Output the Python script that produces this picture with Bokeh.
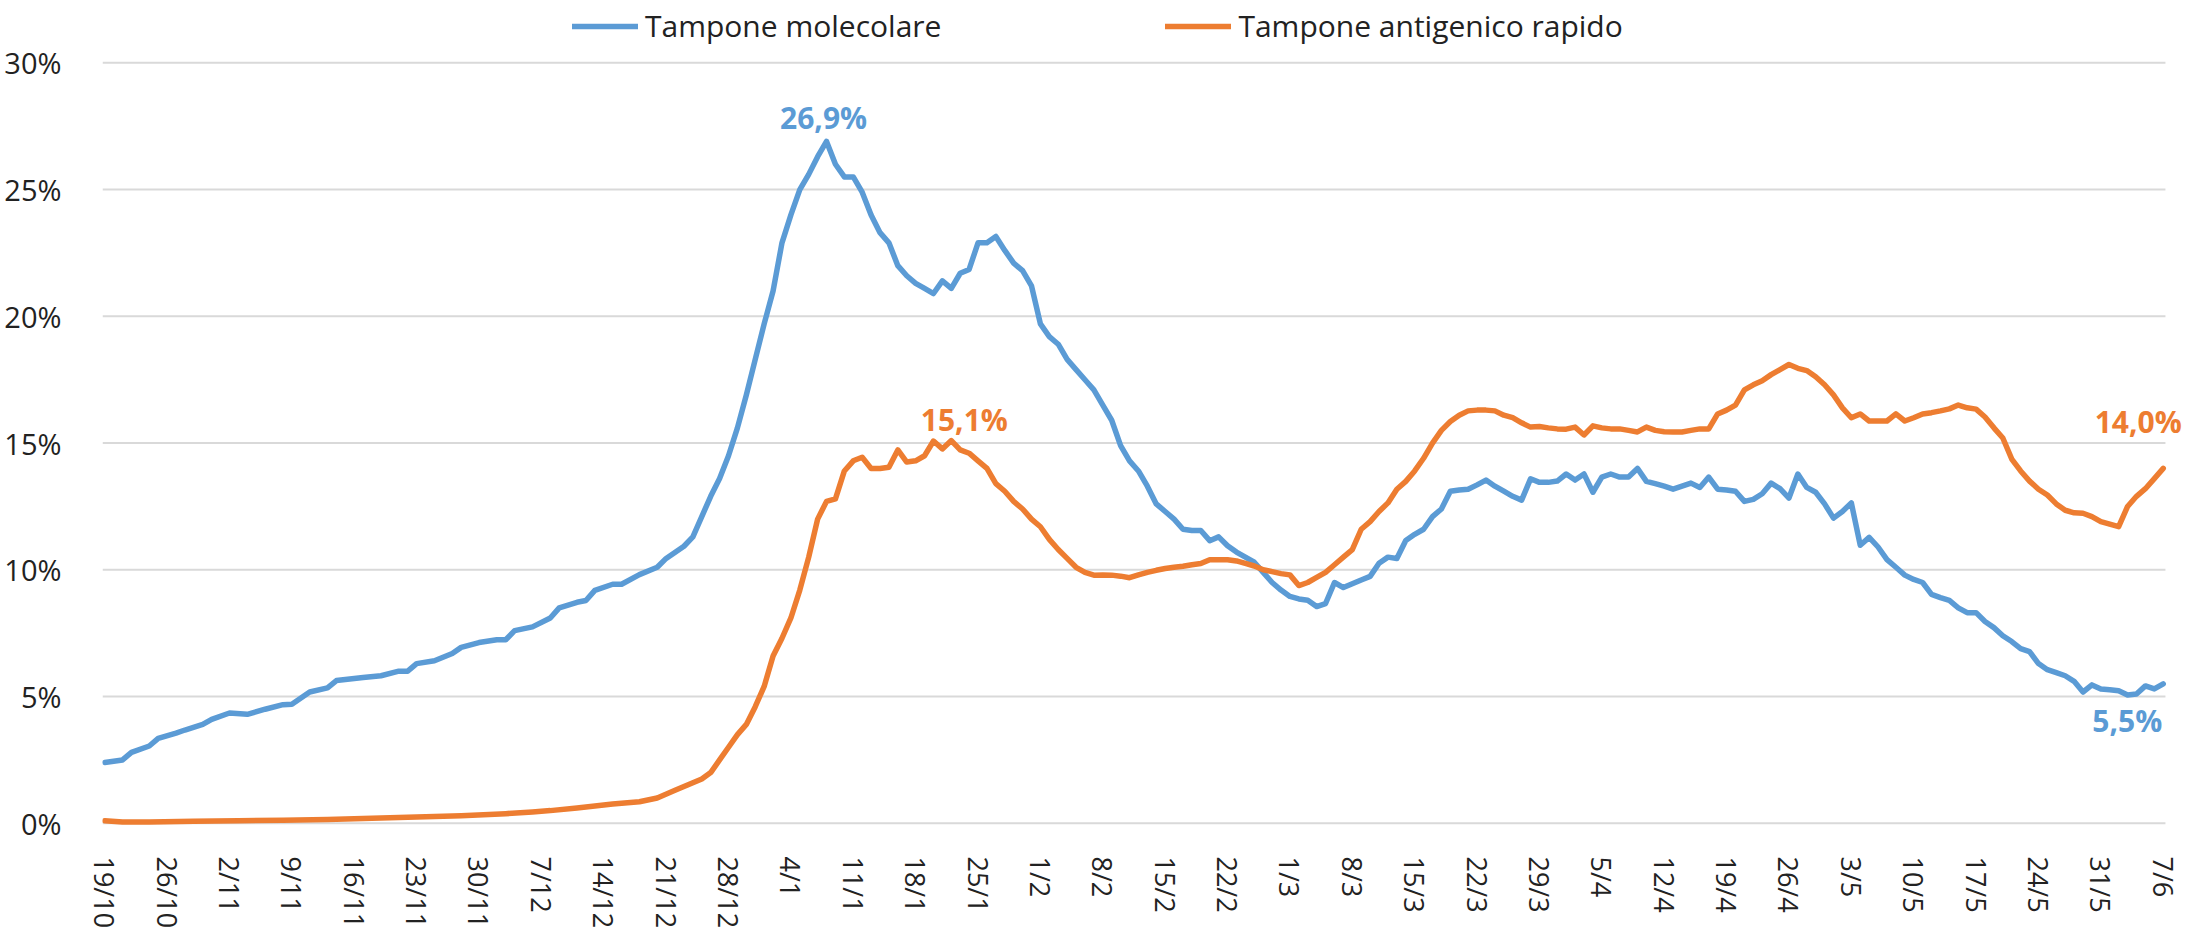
import math
import pandas as pd
from bokeh.plotting import figure
from bokeh.models import (Range1d, FixedTicker, Legend, LegendItem, ColumnDataSource,
                          PrintfTickFormatter, LabelSet)
from bokeh.core.properties import value
from bokeh.embed import file_html
from bokeh.resources import INLINE

# ---------------- data ----------------
start_date = "2020-10-19"
tick_labels = ["19/10", "26/10", "2/11", "9/11", "16/11", "23/11", "30/11", "7/12", "14/12",
               "21/12", "28/12", "4/1", "11/1", "18/1", "25/1", "1/2", "8/2", "15/2", "22/2",
               "1/3", "8/3", "15/3", "22/3", "29/3", "5/4", "12/4", "19/4", "26/4", "3/5",
               "10/5", "17/5", "24/5", "31/5", "7/6"]
y_ticks = [0, 5, 10, 15, 20, 25, 30]
series_names = ["Tampone molecolare", "Tampone antigenico rapido"]

# days after start_date
mol_day = [0, 2, 3, 5, 6, 8, 9, 11, 12, 14, 16, 18, 20, 21, 23, 25, 26, 29, 31, 33, 34, 35, 37,
           39, 40, 42, 44, 45, 46, 48, 50, 51, 53, 54, 55, 57, 58, 60, 62, 63, 65, 66] + list(range(68, 232))
mol_val = [2.4, 2.5, 2.8, 3.05, 3.35, 3.56, 3.68, 3.9, 4.1, 4.35, 4.3, 4.5, 4.68, 4.7, 5.18, 5.34,
           5.63, 5.75, 5.82, 6.0, 6.0, 6.3, 6.41, 6.7, 6.94, 7.13, 7.24, 7.24, 7.6, 7.75, 8.1, 8.5,
           8.72, 8.79, 9.19, 9.43, 9.43, 9.81, 10.1, 10.45, 10.93, 11.3,
           12.9, 13.6, 14.5, 15.6, 16.9, 18.3, 19.7, 21.0, 22.9, 24.0,
           25.0, 25.6, 26.3, 26.9, 26.0, 25.5, 25.5, 24.9, 24.0, 23.3,
           22.9, 22.0, 21.6, 21.3, 21.1, 20.9, 21.4, 21.1, 21.7, 21.85,
           22.9, 22.9, 23.15, 22.6, 22.1, 21.8, 21.2, 19.7, 19.2, 18.9,
           18.3, 17.9, 17.5, 17.1, 16.5, 15.9, 14.9, 14.3, 13.9, 13.3,
           12.6, 12.3, 12.0, 11.6, 11.55, 11.55, 11.15, 11.3, 10.95, 10.7,
           10.5, 10.3, 9.9, 9.5, 9.2, 8.95, 8.85, 8.8, 8.55, 8.67,
           9.5, 9.3, 9.45, 9.6, 9.74, 10.26, 10.5, 10.45, 11.16, 11.4,
           11.6, 12.1, 12.4, 13.1, 13.15, 13.18, 13.35, 13.54, 13.3, 13.1,
           12.9, 12.75, 13.59, 13.45, 13.45, 13.5, 13.78, 13.54, 13.78, 13.06,
           13.66, 13.78, 13.66, 13.66, 14.0, 13.49, 13.4, 13.3, 13.18, 13.3,
           13.42, 13.25, 13.66, 13.18, 13.15, 13.1, 12.7, 12.78, 13.0, 13.42,
           13.2, 12.83, 13.78, 13.25, 13.06, 12.6, 12.04, 12.3, 12.64, 10.97,
           11.28, 10.9, 10.4, 10.1, 9.79, 9.62, 9.5, 9.03, 8.9, 8.79,
           8.5, 8.31, 8.31, 7.96, 7.72, 7.4, 7.17, 6.89, 6.77, 6.3,
           6.06, 5.94, 5.82, 5.6, 5.18, 5.46, 5.3, 5.27, 5.23, 5.06,
           5.1, 5.42, 5.3, 5.5]

ant_day = [0, 2, 5, 10, 15, 20, 25, 30, 35, 40, 45, 48, 50, 53, 57, 60, 62, 64, 65, 67, 68] + list(range(69, 232))
ant_val = [0.1, 0.05, 0.05, 0.08, 0.1, 0.12, 0.15, 0.2, 0.25, 0.3, 0.38, 0.45, 0.5, 0.6, 0.76, 0.85,
           1.0, 1.3, 1.45, 1.75, 2.0,
           2.5, 3.0, 3.5, 3.9, 4.6, 5.4, 6.6, 7.3, 8.1, 9.2,
           10.5, 12.0, 12.7, 12.8, 13.9, 14.3, 14.44, 14.0, 14.0, 14.05,
           14.73, 14.25, 14.3, 14.5, 15.08, 14.77, 15.1, 14.73, 14.6, 14.3,
           14.0, 13.4, 13.1, 12.7, 12.4, 12.0, 11.7, 11.2, 10.8, 10.45,
           10.1, 9.9, 9.79, 9.8, 9.79, 9.75, 9.69, 9.8, 9.9, 9.98,
           10.05, 10.1, 10.14, 10.2, 10.25, 10.4, 10.4, 10.4, 10.35, 10.25,
           10.15, 10.0, 9.93, 9.85, 9.8, 9.38, 9.5, 9.7, 9.9, 10.2,
           10.5, 10.8, 11.6, 11.9, 12.3, 12.64, 13.18, 13.49, 13.9, 14.4,
           15.0, 15.5, 15.85, 16.1, 16.27, 16.3, 16.3, 16.27, 16.1, 16.0,
           15.8, 15.63, 15.65, 15.6, 15.56, 15.55, 15.63, 15.32, 15.68, 15.6,
           15.56, 15.56, 15.5, 15.44, 15.63, 15.5, 15.45, 15.44, 15.44, 15.5,
           15.56, 15.56, 16.15, 16.3, 16.5, 17.1, 17.3, 17.46, 17.7, 17.9,
           18.1, 17.95, 17.86, 17.62, 17.3, 16.9, 16.39, 16.0, 16.15, 15.87,
           15.87, 15.87, 16.15, 15.87, 16.0, 16.15, 16.2, 16.27, 16.35, 16.5,
           16.39, 16.34, 16.03, 15.6, 15.2, 14.37, 13.9, 13.5, 13.18, 12.95,
           12.6, 12.35, 12.25, 12.23, 12.1, 11.9, 11.8, 11.7, 12.5, 12.9,
           13.2, 13.6, 14.0]

# the winter peak is the one that is labelled
winter_end_day = 130

# ---------------- styling ----------------
BLUE = "#5B9BD5"
ORANGE = "#ED7D31"
FONT = "Open Sans"
TXT = "#222222"
GRID = "#D9D9D9"

start = pd.Timestamp(start_date)
tick_days = []
for lab in tick_labels:
    d, m = (int(s) for s in lab.split("/"))
    yr = 2020 if m >= 10 else 2021
    tick_days.append((pd.Timestamp(year=yr, month=m, day=d) - start).days)

PAD_DAYS = 0.25
x_first = min(mol_day[0], ant_day[0]) - PAD_DAYS
x_last = max(mol_day[-1], ant_day[-1]) + PAD_DAYS
# frame extends a little right of the gridlines so end labels are not clipped
p = figure(width=2185, height=936, output_backend="svg", toolbar_location=None,
           x_range=Range1d(x_first, x_first + 233.75), y_range=Range1d(-0.6, 32.46),
           min_border_left=102, min_border_right=0, min_border_top=0, min_border_bottom=98)
p.outline_line_color = None
p.background_fill_color = "white"
p.border_fill_color = "white"

# axes
p.xaxis.ticker = FixedTicker(ticks=tick_days)
p.xaxis.major_label_overrides = {d: lab for d, lab in zip(tick_days, tick_labels)}
p.xaxis.major_label_orientation = -math.pi / 2
p.xaxis.axis_line_color = None
p.xaxis.major_tick_line_color = None
p.xaxis.minor_tick_line_color = None
p.xaxis.major_label_standoff = 12
p.xaxis.major_label_text_font = FONT
p.xaxis.major_label_text_font_size = "27px"
p.xaxis.major_label_text_color = TXT

p.yaxis.ticker = FixedTicker(ticks=y_ticks)
p.yaxis.formatter = PrintfTickFormatter(format="%d%%")
p.yaxis.axis_line_color = None
p.yaxis.major_tick_line_color = None
p.yaxis.minor_tick_line_color = None
p.yaxis.major_label_standoff = 35
p.yaxis.major_label_text_font = FONT
p.yaxis.major_label_text_font_size = "29px"
p.yaxis.major_label_text_color = TXT

p.xgrid.visible = False
p.ygrid.visible = False
# horizontal gridlines spanning the data period
p.segment(x0=[x_first] * len(y_ticks), x1=[x_last] * len(y_ticks), y0=y_ticks, y1=y_ticks,
          line_color=GRID, line_width=2)

r_mol = p.line(mol_day, mol_val, line_width=5.5, color=BLUE, line_join="round", line_cap="round")
r_ant = p.line(ant_day, ant_val, line_width=5.5, color=ORANGE, line_join="round", line_cap="round")

legend = Legend(items=[LegendItem(label=series_names[0], renderers=[r_mol]),
                       LegendItem(label=series_names[1], renderers=[r_ant])],
                orientation="horizontal", location=(470, 792),
                label_text_font=FONT, label_text_font_size="30px", label_text_color=TXT,
                glyph_width=66, glyph_height=20, label_standoff=7, spacing=224,
                padding=0, margin=0, border_line_color=None, background_fill_alpha=0)
p.add_layout(legend, "center")

# data labels: winter peaks and last values
def fmt(v):
    return f"{v:.1f}%".replace(".", ",")

i_mol_max = max((i for i in range(len(mol_val)) if mol_day[i] < winter_end_day), key=lambda i: mol_val[i])
i_ant_max = max((i for i in range(len(ant_val)) if ant_day[i] < winter_end_day), key=lambda i: ant_val[i])
lab_src = ColumnDataSource(dict(
    x=[mol_day[i_mol_max], ant_day[i_ant_max], mol_day[-1], ant_day[-1]],
    y=[mol_val[i_mol_max], ant_val[i_ant_max], mol_val[-1], ant_val[-1]],
    text=[fmt(mol_val[i_mol_max]), fmt(ant_val[i_ant_max]), fmt(mol_val[-1]), fmt(ant_val[-1])],
    color=[BLUE, ORANGE, BLUE, ORANGE],
    xo=[-3, 13, -36, -25],
    yo=[24, 21, -37, 47],
))
labels = LabelSet(x="x", y="y", text="text", source=lab_src, text_color="color",
                  x_offset="xo", y_offset="yo", text_align="center", text_baseline="middle",
                  text_font=value(FONT), text_font_style="bold", text_font_size="30px")
p.add_layout(labels)

open("out.html", "w").write(file_html(p, INLINE))
